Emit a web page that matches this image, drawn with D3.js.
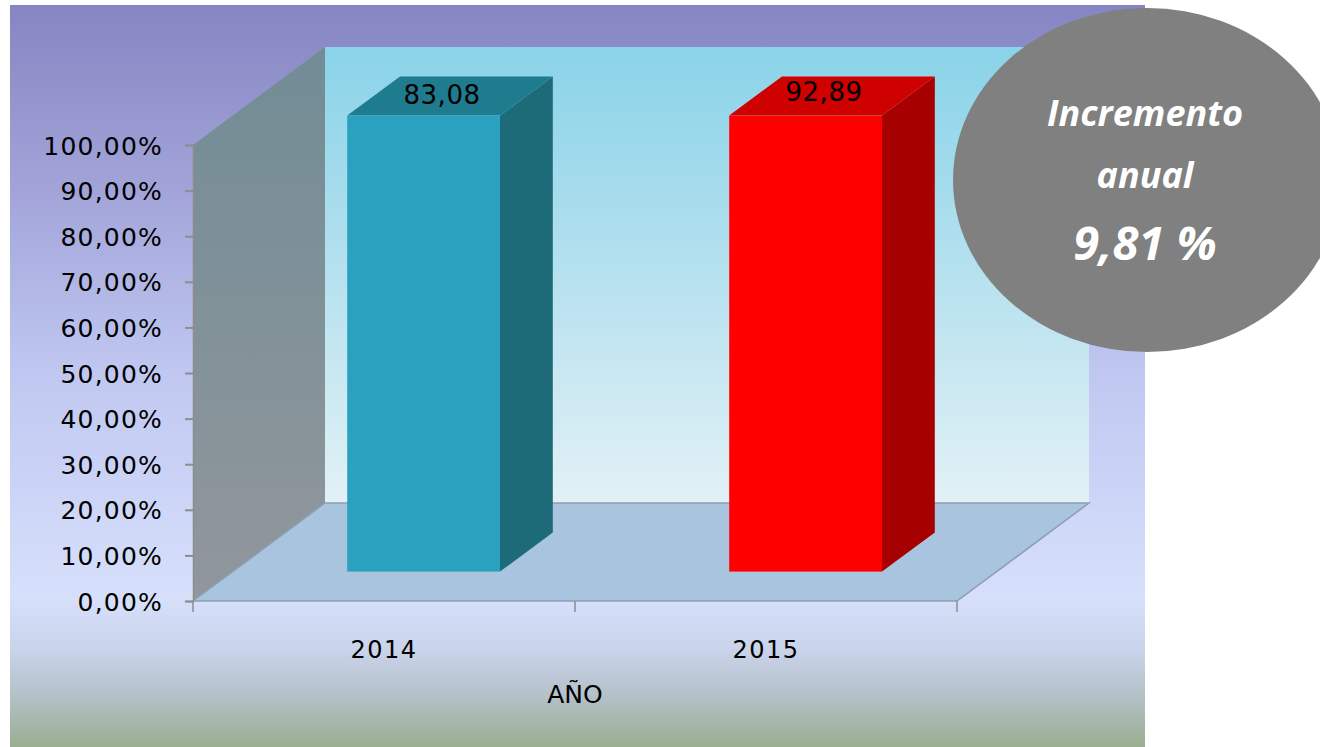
<!DOCTYPE html>
<html>
<head>
<meta charset="utf-8">
<script src="https://cdn.jsdelivr.net/npm/d3@7"></script>
<style>
  body { margin: 0; background: #fff; }
  svg { display: block; }
</style>
</head>
<body>
<div id="chart"></div>
<script>
// data
const years = ["2014", "2015"];
const values = [83.08, 92.89];          // plotted as fraction -> clipped at 100%
const barFront = ["#2aa2bf", "#ff0000"];
const barTop = ["#1f7b8e", "#cf0000"];
const barSide = ["#1d6a79", "#a60000"];
const yTicks = [0, 0.1, 0.2, 0.3, 0.4, 0.5, 0.6, 0.7, 0.8, 0.9, 1];
const bubbleLines = ["Incremento", "anual", "9,81 %"];

const width = 1320, height = 747;
const es = d3.formatLocale({ decimal: ",", thousands: ".", grouping: [3], currency: ["", "€"] });

const svg = d3.select("#chart").append("svg")
  .attr("width", width).attr("height", height);

const defs = svg.append("defs");
const bg = defs.append("linearGradient").attr("id", "bg").attr("x1", 0).attr("y1", 0).attr("x2", 0).attr("y2", 1);
[[0, "#8585c2"], [0.25, "#a2a4d9"], [0.5, "#c0c8f1"], [0.8, "#d6e0fb"], [0.87, "#c9d3ea"], [0.93, "#b4c1c9"], [1, "#9aae91"]]
  .forEach(s => bg.append("stop").attr("offset", s[0]).attr("stop-color", s[1]));
const wall = defs.append("linearGradient").attr("id", "wall").attr("x1", 0).attr("y1", 0).attr("x2", 0).attr("y2", 1);
[[0, "#8ad3e9"], [0.5, "#b6e1ef"], [1, "#e2f1f6"]]
  .forEach(s => wall.append("stop").attr("offset", s[0]).attr("stop-color", s[1]));
const side = defs.append("linearGradient").attr("id", "side").attr("x1", 0).attr("y1", 0).attr("x2", 0).attr("y2", 1);
[[0, "#728c95"], [1, "#91979c"]]
  .forEach(s => side.append("stop").attr("offset", s[0]).attr("stop-color", s[1]));

svg.append("rect").attr("x", 10).attr("y", 5).attr("width", 1135).attr("height", 742).attr("fill", "url(#bg)");

// front plane scales + depth offset
const x = d3.scaleBand().domain(years).range([193, 957]).padding(0);
const y = d3.scaleLinear().domain([0, 1]).range([601, 145]).clamp(true);
const DX = 132, DY = -98;
const x0 = x.range()[0], x1 = x.range()[1], yb = y(0), yt = y(1);

// back wall
svg.append("rect").attr("x", x0 + DX).attr("y", yt + DY)
  .attr("width", x1 - x0).attr("height", yb - yt).attr("fill", "url(#wall)");
// left side wall
svg.append("path")
  .attr("d", `M${x0},${yb}L${x0},${yt}L${x0 + DX},${yt + DY}L${x0 + DX},${yb + DY}Z`)
  .attr("fill", "url(#side)");
// floor
svg.append("path")
  .attr("d", `M${x0},${yb}L${x1},${yb}L${x1 + DX},${yb + DY}L${x0 + DX},${yb + DY}Z`)
  .attr("fill", "#a8c4df").attr("stroke", "#8e9db3").attr("stroke-width", 1.5);

// bars (3D boxes sitting between depth 0.3 and 0.7)
const z0 = 0.3, z1 = 0.7;
const bw = x.bandwidth() * 0.4;
const bars = years.map((yr, i) => {
  const cx = x(yr) + x.bandwidth() / 2;
  const l = cx - bw / 2 + DX * z0, r = l + bw;
  const b = y(0) + DY * z0, t = y(values[i]) + DY * z0;
  const ox = DX * (z1 - z0), oy = DY * (z1 - z0);
  return { yr, i, l, r, b, t, ox, oy };
});

const g = svg.append("g").selectAll("g").data(bars).join("g");
g.append("path")
  .attr("d", d => `M${d.r},${d.b}L${d.r},${d.t}L${d.r + d.ox},${d.t + d.oy}L${d.r + d.ox},${d.b + d.oy}Z`)
  .attr("fill", d => barSide[d.i]);
g.append("path")
  .attr("d", d => `M${d.l},${d.t}L${d.r},${d.t}L${d.r + d.ox},${d.t + d.oy}L${d.l + d.ox},${d.t + d.oy}Z`)
  .attr("fill", d => barTop[d.i]);
g.append("rect")
  .attr("x", d => d.l).attr("y", d => d.t)
  .attr("width", bw).attr("height", d => d.b - d.t)
  .attr("fill", d => barFront[d.i]);
g.append("text")
  .attr("x", d => d.l + bw / 2 + d.ox / 2 - 8)
  .attr("y", d => d.t + d.oy / 2 + 8 - d.i * 3)
  .attr("text-anchor", "middle")
  .style("font-family", "DejaVu Sans").style("font-size", "26px").style("letter-spacing", "0.5px")
  .attr("fill", "#000")
  .text(d => es.format(".2f")(values[d.i]));

// y axis
const yAxis = d3.axisLeft(y).tickValues(yTicks).tickSize(8).tickPadding(22)
  .tickFormat(es.format(".2%"));
const ya = svg.append("g").attr("transform", `translate(${x0},0)`).call(yAxis);
ya.select(".domain").attr("stroke", "#8d8d8d").attr("stroke-width", 1.5);
ya.selectAll(".tick line").attr("stroke", "#8d8d8d").attr("stroke-width", 2);
ya.selectAll("text").style("font-family", "DejaVu Sans").style("font-size", "25px")
  .style("letter-spacing", "1.2px").attr("fill", "#000").attr("dy", "0.36em");

// x axis
const xa = svg.append("g").attr("transform", `translate(0,${yb})`)
  .call(d3.axisBottom(x).tickSize(0).tickPadding(40));
xa.select(".domain").remove();
xa.selectAll("text").style("font-family", "DejaVu Sans").style("font-size", "24px")
  .style("letter-spacing", "1.5px").attr("fill", "#000");
svg.append("g").selectAll("line").data([x0, x0 + x.step(), x1]).join("line")
  .attr("x1", d => d).attr("x2", d => d).attr("y1", yb).attr("y2", yb + 11)
  .attr("stroke", "#8d8d8d").attr("stroke-width", 1.5);
svg.append("text").attr("x", (x0 + x1) / 2).attr("y", 703).attr("text-anchor", "middle")
  .style("font-family", "DejaVu Sans").style("font-size", "25px").attr("fill", "#000")
  .text("AÑO");

// annotation bubble
svg.append("ellipse").attr("cx", 1147).attr("cy", 180).attr("rx", 194).attr("ry", 172).attr("fill", "#808080");
svg.append("g").selectAll("text").data(bubbleLines).join("text")
  .attr("x", 1145).attr("y", (d, i) => [126, 188, 260][i])
  .attr("text-anchor", "middle")
  .style("font-family", "Open Sans").style("font-weight", "bold").style("font-style", "italic")
  .style("font-size", (d, i) => i === 2 ? "47px" : "36px")
  .attr("fill", "#fff")
  .text(d => d);
</script>
</body>
</html>
